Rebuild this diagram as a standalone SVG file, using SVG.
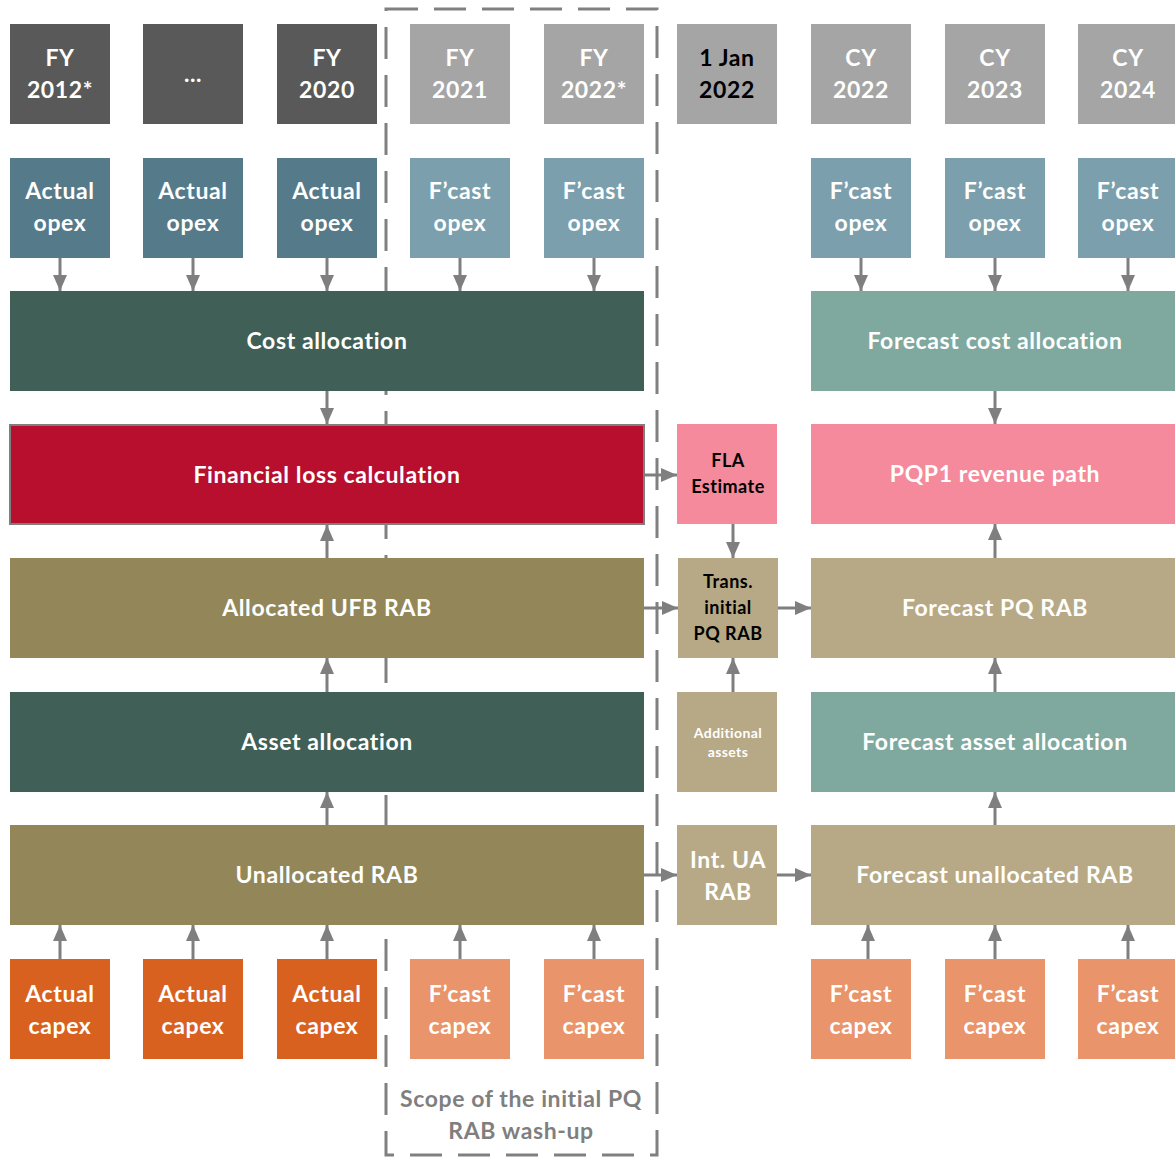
<svg xmlns="http://www.w3.org/2000/svg" width="1175" height="1157" viewBox="0 0 1175 1157">
<defs>
<marker id="ah" viewBox="0 0 16 14" refX="16" refY="7" markerWidth="16" markerHeight="14" markerUnits="userSpaceOnUse" orient="auto">
<path d="M0,0 L16,7 L0,14 z" fill="#7f7f7f"/>
</marker>
<style>
text{font-family:Lato,"Open Sans","Liberation Sans",sans-serif;font-weight:bold;text-anchor:middle;}
.t{font-size:23px;fill:#fff;letter-spacing:0.6px;}
.k{font-size:18px;fill:#000;letter-spacing:0.5px;}
.s{font-size:14px;fill:#fff;letter-spacing:0.4px;}
.c line{stroke:#7f7f7f;stroke-width:3;marker-end:url(#ah);}
.dk{fill:#595959}.lg{fill:#a5a5a5}.ao{fill:#557a8a}.fo{fill:#7b9fad}
.ca{fill:#3f5f57}.fca{fill:#7fa99f}.fl{fill:#b80f2e;stroke:#7f7f7f;stroke-width:2}
.pk{fill:#f48a9b}.ar{fill:#938659}.lt{fill:#b7a985}.ac{fill:#d86120}.fc{fill:#e9946a}
</style>
</defs>
<rect width="1175" height="1157" fill="#fff"/>
<g id="scope">
<rect x="386" y="9" width="271" height="1146" fill="none" stroke="#808080" stroke-width="3" stroke-dasharray="32,16"/>
<text x="521" y="1107" class="t" style="fill:#7f7f7f">Scope of the initial PQ</text>
<text x="521" y="1139" class="t" style="fill:#7f7f7f">RAB wash-up</text>
</g>
<g id="years">
<g id="y2012"><rect x="10" y="24" width="100" height="100" class="dk"/><text x="60" y="66" class="t">FY</text><text x="60" y="98" class="t">2012*</text></g>
<g id="ydots"><rect x="143" y="24" width="100" height="100" class="dk"/><text x="193" y="82" class="t">...</text></g>
<g id="y2020"><rect x="277" y="24" width="100" height="100" class="dk"/><text x="327" y="66" class="t">FY</text><text x="327" y="98" class="t">2020</text></g>
<g id="y2021"><rect x="410" y="24" width="100" height="100" class="lg"/><text x="460" y="66" class="t">FY</text><text x="460" y="98" class="t">2021</text></g>
<g id="y2022"><rect x="544" y="24" width="100" height="100" class="lg"/><text x="594" y="66" class="t">FY</text><text x="594" y="98" class="t">2022*</text></g>
<g id="jan2022"><rect x="677" y="24" width="100" height="100" class="lg"/><text x="727" y="66" class="t" style="fill:#000">1 Jan</text><text x="727" y="98" class="t" style="fill:#000">2022</text></g>
<g id="cy2022"><rect x="811" y="24" width="100" height="100" class="lg"/><text x="861" y="66" class="t">CY</text><text x="861" y="98" class="t">2022</text></g>
<g id="cy2023"><rect x="945" y="24" width="100" height="100" class="lg"/><text x="995" y="66" class="t">CY</text><text x="995" y="98" class="t">2023</text></g>
<g id="cy2024"><rect x="1078" y="24" width="100" height="100" class="lg"/><text x="1128" y="66" class="t">CY</text><text x="1128" y="98" class="t">2024</text></g>
</g>
<g id="opex">
<g id="ao1"><rect x="10" y="158" width="100" height="100" class="ao"/><text x="60" y="199" class="t">Actual</text><text x="60" y="231" class="t">opex</text></g>
<g id="ao2"><rect x="143" y="158" width="100" height="100" class="ao"/><text x="193" y="199" class="t">Actual</text><text x="193" y="231" class="t">opex</text></g>
<g id="ao3"><rect x="277" y="158" width="100" height="100" class="ao"/><text x="327" y="199" class="t">Actual</text><text x="327" y="231" class="t">opex</text></g>
<g id="fo1"><rect x="410" y="158" width="100" height="100" class="fo"/><text x="460" y="199" class="t">F’cast</text><text x="460" y="231" class="t">opex</text></g>
<g id="fo2"><rect x="544" y="158" width="100" height="100" class="fo"/><text x="594" y="199" class="t">F’cast</text><text x="594" y="231" class="t">opex</text></g>
<g id="fo3"><rect x="811" y="158" width="100" height="100" class="fo"/><text x="861" y="199" class="t">F’cast</text><text x="861" y="231" class="t">opex</text></g>
<g id="fo4"><rect x="945" y="158" width="100" height="100" class="fo"/><text x="995" y="199" class="t">F’cast</text><text x="995" y="231" class="t">opex</text></g>
<g id="fo5"><rect x="1078" y="158" width="100" height="100" class="fo"/><text x="1128" y="199" class="t">F’cast</text><text x="1128" y="231" class="t">opex</text></g>
</g>
<g id="costalloc"><rect x="10" y="291" width="634" height="100" class="ca"/><text x="327" y="349" class="t">Cost allocation</text></g>
<g id="fcostalloc"><rect x="811" y="291" width="367" height="100" class="fca"/><text x="995" y="349" class="t">Forecast cost allocation</text></g>
<g id="finloss"><rect x="10" y="425" width="634" height="99" class="fl"/><text x="327" y="483" class="t">Financial loss calculation</text></g>
<g id="fla"><rect x="677" y="424" width="100" height="100" class="pk"/><text x="728" y="467" class="k">FLA</text><text x="728" y="493" class="k">Estimate</text></g>
<g id="pqp1"><rect x="811" y="424" width="367" height="100" class="pk"/><text x="995" y="482" class="t">PQP1 revenue path</text></g>
<g id="allocufb"><rect x="10" y="558" width="634" height="100" class="ar"/><text x="327" y="616" class="t">Allocated UFB RAB</text></g>
<g id="trans"><rect x="678" y="558" width="100" height="100" class="lt"/><text x="728" y="588" class="k">Trans.</text><text x="728" y="614" class="k">initial</text><text x="728" y="640" class="k">PQ RAB</text></g>
<g id="fpqrab"><rect x="811" y="558" width="367" height="100" class="lt"/><text x="995" y="616" class="t">Forecast PQ RAB</text></g>
<g id="assetalloc"><rect x="10" y="692" width="634" height="100" class="ca"/><text x="327" y="750" class="t">Asset allocation</text></g>
<g id="addassets"><rect x="677" y="692" width="100" height="100" class="lt"/><text x="728" y="738" class="s">Additional</text><text x="728" y="757" class="s">assets</text></g>
<g id="fassetalloc"><rect x="811" y="692" width="367" height="100" class="fca"/><text x="995" y="750" class="t">Forecast asset allocation</text></g>
<g id="unallocrab"><rect x="10" y="825" width="634" height="100" class="ar"/><text x="327" y="883" class="t">Unallocated RAB</text></g>
<g id="intua"><rect x="677" y="825" width="100" height="100" class="lt"/><text x="728" y="868" class="t">Int. UA</text><text x="728" y="900" class="t">RAB</text></g>
<g id="funalloc"><rect x="811" y="825" width="367" height="100" class="lt"/><text x="995" y="883" class="t">Forecast unallocated RAB</text></g>
<g id="capex">
<g id="ac1"><rect x="10" y="959" width="100" height="100" class="ac"/><text x="60" y="1002" class="t">Actual</text><text x="60" y="1034" class="t">capex</text></g>
<g id="ac2"><rect x="143" y="959" width="100" height="100" class="ac"/><text x="193" y="1002" class="t">Actual</text><text x="193" y="1034" class="t">capex</text></g>
<g id="ac3"><rect x="277" y="959" width="100" height="100" class="ac"/><text x="327" y="1002" class="t">Actual</text><text x="327" y="1034" class="t">capex</text></g>
<g id="fc1"><rect x="410" y="959" width="100" height="100" class="fc"/><text x="460" y="1002" class="t">F’cast</text><text x="460" y="1034" class="t">capex</text></g>
<g id="fc2"><rect x="544" y="959" width="100" height="100" class="fc"/><text x="594" y="1002" class="t">F’cast</text><text x="594" y="1034" class="t">capex</text></g>
<g id="fc3"><rect x="811" y="959" width="100" height="100" class="fc"/><text x="861" y="1002" class="t">F’cast</text><text x="861" y="1034" class="t">capex</text></g>
<g id="fc4"><rect x="945" y="959" width="100" height="100" class="fc"/><text x="995" y="1002" class="t">F’cast</text><text x="995" y="1034" class="t">capex</text></g>
<g id="fc5"><rect x="1078" y="959" width="100" height="100" class="fc"/><text x="1128" y="1002" class="t">F’cast</text><text x="1128" y="1034" class="t">capex</text></g>
</g>
<g id="connectors" class="c">
<line x1="60" y1="258" x2="60" y2="291"/>
<line x1="193" y1="258" x2="193" y2="291"/>
<line x1="327" y1="258" x2="327" y2="291"/>
<line x1="460" y1="258" x2="460" y2="291"/>
<line x1="594" y1="258" x2="594" y2="291"/>
<line x1="861" y1="258" x2="861" y2="291"/>
<line x1="995" y1="258" x2="995" y2="291"/>
<line x1="1128" y1="258" x2="1128" y2="291"/>
<line x1="327" y1="391" x2="327" y2="424"/>
<line x1="995" y1="391" x2="995" y2="424"/>
<line x1="327" y1="558" x2="327" y2="525"/>
<line x1="327" y1="692" x2="327" y2="658"/>
<line x1="327" y1="825" x2="327" y2="792"/>
<line x1="995" y1="558" x2="995" y2="524"/>
<line x1="995" y1="692" x2="995" y2="658"/>
<line x1="995" y1="825" x2="995" y2="792"/>
<line x1="60" y1="959" x2="60" y2="925"/>
<line x1="193" y1="959" x2="193" y2="925"/>
<line x1="327" y1="959" x2="327" y2="925"/>
<line x1="460" y1="959" x2="460" y2="925"/>
<line x1="594" y1="959" x2="594" y2="925"/>
<line x1="868" y1="959" x2="868" y2="925"/>
<line x1="995" y1="959" x2="995" y2="925"/>
<line x1="1128" y1="959" x2="1128" y2="925"/>
<line x1="645" y1="475" x2="677" y2="475"/>
<line x1="733" y1="524" x2="733" y2="558"/>
<line x1="733" y1="692" x2="733" y2="658"/>
<line x1="644" y1="608" x2="678" y2="608"/>
<line x1="778" y1="608" x2="811" y2="608"/>
<line x1="644" y1="875" x2="677" y2="875"/>
<line x1="777" y1="875" x2="811" y2="875"/>
</g>
</svg>
